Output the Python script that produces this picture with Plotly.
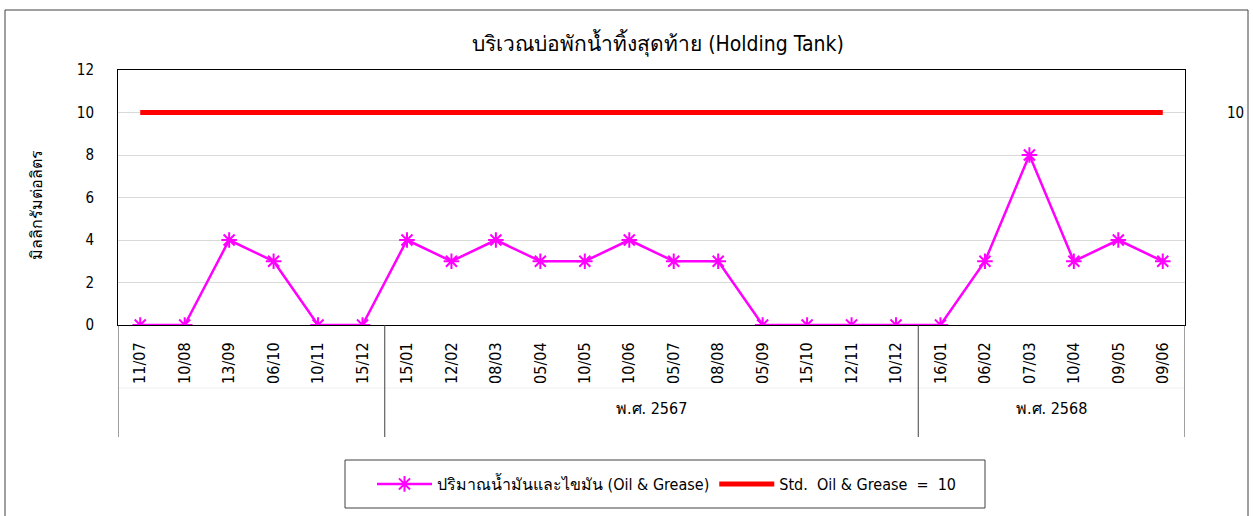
import plotly.graph_objects as go

categories = ["11/07", "10/08", "13/09", "06/10", "10/11", "15/12",
              "15/01", "12/02", "08/03", "05/04", "10/05", "10/06",
              "05/07", "08/08", "05/09", "15/10", "12/11", "10/12",
              "16/01", "06/02", "07/03", "10/04", "09/05", "09/06"]
oil_grease = [0, 0, 4, 3, 0, 0, 4, 3, 4, 3, 3, 4, 3, 3, 0, 0, 0, 0, 0, 3, 8, 3, 4, 3]
std_value = [10] * len(categories)
groups = [("", 0, 5), ("พ.ศ. 2567", 6, 17), ("พ.ศ. 2568", 18, 23)]
y_ticks = [0, 2, 4, 6, 8, 10, 12]

FONT = "'DejaVu Sans Condensed', Tahoma, 'DejaVu Sans', sans-serif"
W, H = 1253, 516
L, R, T, B = 118, 1185, 70, 325
pw, ph = R - L, B - T

def px(x):  # screen x -> paper
    return (x - L) / pw

def py(y):  # screen y -> paper
    return (B - y) / ph

xs = list(range(len(categories)))

fig = go.Figure()
fig.add_trace(go.Scatter(
    x=xs, y=oil_grease, mode="lines+markers",
    name="ปริมาณน้ำมันและไขมัน (Oil & Grease)",
    line=dict(color="#FF00FF", width=2.5),
    marker=dict(symbol="asterisk-open", size=13, line=dict(color="#FF00FF", width=2)),
))
fig.add_trace(go.Scatter(
    x=xs, y=std_value, mode="lines",
    name="Std.  Oil & Grease  =  10",
    line=dict(color="#FF0000", width=5),
))

shapes = []
# outer border
shapes.append(dict(type="rect", xref="paper", yref="paper",
                   x0=px(5), x1=px(1248), y0=py(540), y1=py(10),
                   line=dict(color="#404040", width=1), fillcolor="rgba(0,0,0,0)", layer="below"))
# legend border
shapes.append(dict(type="rect", xref="paper", yref="paper",
                   x0=px(345), x1=px(985), y0=py(508), y1=py(460),
                   line=dict(color="#404040", width=1), fillcolor="rgba(0,0,0,0)"))
# faint separator between tick row and group row
shapes.append(dict(type="line", xref="paper", yref="paper", x0=px(118), x1=px(1185),
                   y0=py(388), y1=py(388), line=dict(color="#F0F0F0", width=1)))
# group dividers
bounds = [g[1] - 0.5 for g in groups] + [groups[-1][2] + 0.5]
for b in bounds:
    shapes.append(dict(type="line", xref="x", yref="paper", x0=b, x1=b,
                       y0=0, y1=py(437), line=dict(color="#404040", width=1)))

annotations = []
for name, a, b in groups:
    if name:
        annotations.append(dict(x=(a + b) / 2, y=py(420), xref="x", yref="paper",
                                text=name, showarrow=False,
                                font=dict(size=16, color="black", family=FONT)))
annotations.append(dict(x=px(1235), y=10, xref="paper", yref="y", text="10",
                        xanchor="center", showarrow=False,
                        font=dict(size=15, color="black", family=FONT)))
annotations.append(dict(x=px(36), y=py(205), xref="paper", yref="paper",
                        xanchor="center", yanchor="middle",
                        text="มิลลิกรัมต่อลิตร", textangle=-90, showarrow=False,
                        font=dict(size=16, color="black", family=FONT)))

fig.update_layout(
    width=W, height=H,
    margin=dict(l=L, r=W - R, t=T, b=H - B, pad=0),
    paper_bgcolor="white", plot_bgcolor="white",
    font=dict(family=FONT, size=15, color="black"),
    title=dict(text="บริเวณบ่อพักน้ำทิ้งสุดท้าย (Holding Tank)", x=658 / W, xanchor="center",
               y=1 - 44 / H, yanchor="middle", font=dict(size=21, family=FONT, color="black")),
    xaxis=dict(range=[-0.5, len(categories) - 0.5], tickmode="array", tickvals=xs,
               ticktext=categories, tickangle=-90,
               showgrid=False, zeroline=False, showline=True, linecolor="black", linewidth=1,
               mirror=True, ticks="", ticklabelstandoff=10, tickfont=dict(size=16)),
    yaxis=dict(range=[0, 12], tickmode="array", tickvals=y_ticks,
               ticktext=[str(v) for v in y_ticks],
               showgrid=True, gridcolor="#D9D9D9", gridwidth=1, zeroline=False,
               showline=True, linecolor="black", linewidth=1, mirror=True,
               ticks="", ticklabelstandoff=20, tickfont=dict(size=15)),
    showlegend=True,
    legend=dict(orientation="h", x=px(372), xanchor="left", y=py(484), yanchor="middle",
                borderwidth=0, bgcolor="rgba(0,0,0,0)",
                font=dict(size=16, family=FONT), itemwidth=55),
    shapes=shapes, annotations=annotations,
)

fig.write_html("out.html", config={"displayModeBar": False},
               post_script="document.body.style.margin='0';document.body.style.overflow='hidden';")
